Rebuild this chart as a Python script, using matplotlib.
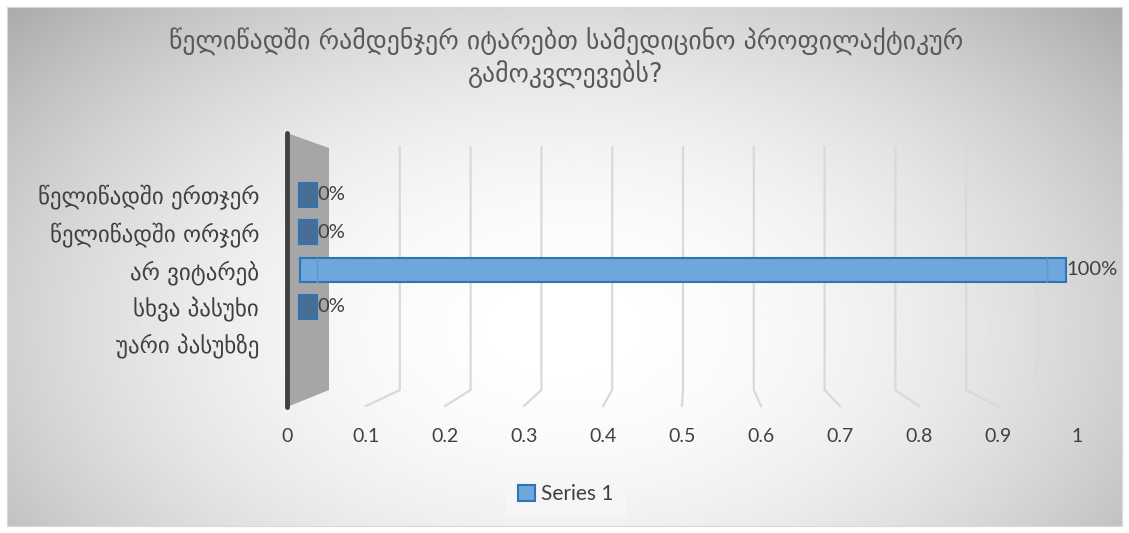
import numpy as np
import matplotlib.pyplot as plt
from matplotlib.patches import Polygon, Rectangle, Patch

# chart data
categories = ["წელიწადში ერთჯერ", "წელიწადში ორჯერ", "არ ვიტარებ", "სხვა პასუხი", "უარი პასუხზე"]
values = [0.0, 0.0, 1.0, 0.0, None]
value_labels = ["0%", "0%", "100%", "0%", ""]
ticks = [0, 0.1, 0.2, 0.3, 0.4, 0.5, 0.6, 0.7, 0.8, 0.9, 1]
tick_labels = ["0", "0.1", "0.2", "0.3", "0.4", "0.5", "0.6", "0.7", "0.8", "0.9", "1"]
title = "წელიწადში რამდენჯერ იტარებთ სამედიცინო პროფილაქტიკურ\nგამოკვლევებს?"
series_name = "Series 1"

W, H = 1129, 533
plt.rcParams["font.family"] = ["Lato", "DejaVu Sans"]
TXT = "#404040"

fig = plt.figure(figsize=(W / 100, H / 100), dpi=100)


def fx(px):
    return px / W


def fy(py):
    return 1 - py / H


# background with soft radial shading
bg = fig.add_axes([fx(7), fy(526), fx(1122 - 7), (526 - 7) / H])
xx, yy = np.meshgrid(np.linspace(0, 1, 400), np.linspace(0, 1, 200))
r = np.sqrt(((xx - 0.5) / 0.55) ** 2 + ((yy - 0.62) / 0.75) ** 2)
shade = 1 - 0.22 * np.clip(r, 0, 1.3) ** 2
bg.imshow(shade, cmap="gray", vmin=0, vmax=1, aspect="auto", extent=[0, 1, 0, 1], origin="upper")
bg.set_xticks([])
bg.set_yticks([])
for s in bg.spines.values():
    s.set_color("#d9d9d9")

# main axes: x=0 at px 300, x=1 at px 1066; category i at px 195 + 37.3*i
X0, X1 = 300, 1066
Y0, DY = 195, 37.3
ax_l, ax_r, ax_t, ax_b = 280, 1120, 130, 415
ax = fig.add_axes([fx(ax_l), fy(ax_b), (ax_r - ax_l) / W, (ax_b - ax_t) / H])
ax.patch.set_alpha(0)
ax.set_xlim((ax_l - X0) / (X1 - X0), (ax_r - X0) / (X1 - X0))
ax.set_ylim((ax_b - Y0) / DY, (ax_t - Y0) / DY)
for s in ax.spines.values():
    s.set_visible(False)


def dx(px):
    return (px - X0) / (X1 - X0)


def dy(py):
    return (py - Y0) / DY


def front(v):
    return dx(287 + 790 * v)


def back(v):
    return dx(329 + 708 * v)


# side wall
wall = Polygon([(dx(287), dy(133)), (dx(329), dy(148)), (dx(329), dy(390)), (dx(287), dy(407))],
               closed=True, facecolor="#a6a6a6", edgecolor="none", zorder=1)
ax.add_patch(wall)
ax.plot([dx(287), dx(287)], [dy(133), dy(407)], color="#404040", lw=3.5, solid_capstyle="round", zorder=2)

# gridlines (back wall + floor)
for v in ticks[1:]:
    alpha = 1.0 if v < 1 else 0.25
    ax.plot([back(v), back(v), front(v)], [dy(147), dy(390), dy(406)], color="#d9d9d9",
            lw=1.6, alpha=alpha, zorder=1)

# bars
ypos = np.arange(len(categories))
bh = 24 / DY
cap = dx(317)
for i, v in enumerate(values):
    if v is None:
        continue
    if v > 0:
        ax.barh(i, v, height=bh, left=0, color="#6fa6db", edgecolor="#2e75b6", lw=1.5, zorder=3)
        ax.plot([cap, cap], [i - bh / 2, i + bh / 2], color="#5f97cf", lw=1, zorder=4)
        ax.plot([v - 0.025, v - 0.025], [i - bh / 2, i + bh / 2], color="#5f97cf", lw=1, zorder=4)
    else:
        ax.add_patch(Rectangle((dx(299), i - bh / 2), cap - dx(299), bh, facecolor="#4a6d94",
                               edgecolor="#2e75b6", lw=1.5, zorder=3))
    lx = v if v > 0 else cap
    ax.text(lx, i, value_labels[i], ha="left", va="center", fontsize=14.5, color=TXT, zorder=5)

# category labels
ax.set_yticks(ypos)
ax.set_yticklabels(categories, fontsize=16.5, color=TXT, family="DejaVu Sans")
ax.tick_params(axis="y", length=0, pad=15)

# value axis labels (front edge of floor)
ax.set_xticks([])
for v, lab in zip(ticks, tick_labels):
    ax.text(front(v), dy(437), lab, ha="center", va="center", fontsize=14, color=TXT)

fig.text(fx(566), fy(57), title, ha="center", va="center", fontsize=18.5, color="#595959",
         linespacing=1.2, family="DejaVu Sans")

leg = fig.legend(handles=[Patch(facecolor="#6fa6db", edgecolor="#2e75b6", lw=1.5, label=series_name)],
                 loc="center", bbox_to_anchor=(fx(566), fy(494)), frameon=True, fontsize=15,
                 handlelength=0.8, handleheight=0.8, handletextpad=0.3, borderpad=0.6,
                 borderaxespad=0, fancybox=False)
leg.get_frame().set_facecolor("#f7f7f7")
leg.get_frame().set_edgecolor("none")
for t in leg.get_texts():
    t.set_color(TXT)

fig.savefig("out.png", dpi=100, facecolor="white")
plt.close(fig)
